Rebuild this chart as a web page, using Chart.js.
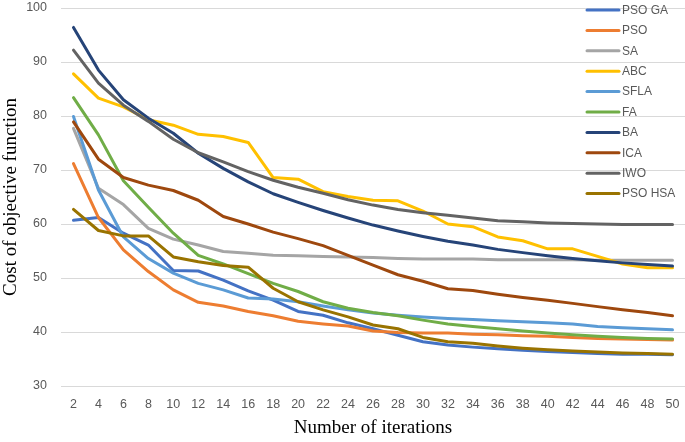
<!DOCTYPE html>
<html>
<head>
<meta charset="utf-8">
<script src="https://cdn.jsdelivr.net/npm/chart.js@4.4.1/dist/chart.umd.min.js"></script>
<style>
	html, body { margin: 0; padding: 0; background: #fff; }
	#wrap { width: 685px; height: 442px; position: relative; }
</style>
</head>
<body>
<div id="wrap"><canvas id="cost-chart"></canvas></div>
<script>
const iterations = [2, 4, 6, 8, 10, 12, 14, 16, 18, 20, 22, 24, 26, 28, 30, 32, 34, 36, 38, 40, 42, 44, 46, 48, 50]

const psoGa = [60.7, 61.2, 58.3, 56.1, 51.4, 51.3, 49.6, 47.6, 45.9, 43.8, 43.1, 41.7, 40.6, 39.4, 38.2, 37.6, 37.2, 36.9, 36.6, 36.4, 36.2, 36.0, 35.9, 35.9, 35.8]
const pso = [71.2, 61.2, 55.2, 51.2, 47.8, 45.5, 44.8, 43.8, 43.0, 42.0, 41.5, 41.1, 40.2, 39.9, 39.8, 39.8, 39.6, 39.5, 39.3, 39.2, 39.0, 38.8, 38.7, 38.6, 38.5]
const sa = [77.7, 66.6, 63.6, 59.2, 57.2, 56.1, 54.9, 54.6, 54.2, 54.1, 54.0, 53.9, 53.8, 53.6, 53.5, 53.5, 53.5, 53.4, 53.4, 53.4, 53.4, 53.3, 53.3, 53.3, 53.3]
const abc = [87.8, 83.3, 81.7, 79.3, 78.3, 76.6, 76.2, 75.1, 68.6, 68.3, 66.0, 65.1, 64.4, 64.3, 62.4, 60.0, 59.5, 57.6, 56.9, 55.4, 55.4, 54.0, 52.6, 51.9, 51.9]
const sfla = [79.9, 66.3, 57.6, 53.6, 50.9, 49.0, 47.8, 46.3, 46.1, 45.6, 44.8, 44.1, 43.5, 43.1, 42.8, 42.5, 42.3, 42.1, 41.9, 41.7, 41.5, 41.0, 40.8, 40.6, 40.4]
const fa = [83.4, 76.5, 68.0, 63.1, 58.3, 54.2, 52.6, 50.8, 49.0, 47.5, 45.6, 44.4, 43.6, 43.0, 42.2, 41.5, 41.0, 40.6, 40.2, 39.8, 39.5, 39.2, 39.0, 38.8, 38.7]
const ba = [96.4, 88.5, 83.0, 79.6, 76.8, 73.1, 70.3, 67.8, 65.6, 64.0, 62.5, 61.1, 59.8, 58.7, 57.7, 56.8, 56.1, 55.3, 54.7, 54.1, 53.6, 53.2, 52.8, 52.5, 52.2]
const ica = [78.9, 72.0, 68.6, 67.2, 66.2, 64.4, 61.4, 60.0, 58.5, 57.3, 56.0, 54.2, 52.4, 50.6, 49.4, 48.0, 47.7, 47.0, 46.4, 45.9, 45.3, 44.7, 44.1, 43.6, 43.0]
const iwo = [92.2, 86.1, 82.0, 79.0, 75.7, 73.2, 71.5, 69.7, 68.1, 66.8, 65.7, 64.5, 63.5, 62.7, 62.1, 61.6, 61.1, 60.6, 60.4, 60.2, 60.1, 60.0, 59.9, 59.9, 59.9]
const psoHsa = [62.7, 58.8, 57.8, 57.8, 53.9, 53.0, 52.3, 52.0, 48.1, 45.6, 44.1, 42.8, 41.3, 40.6, 39.0, 38.2, 37.9, 37.4, 37.0, 36.7, 36.5, 36.3, 36.1, 36.0, 35.9]

const seriesNames = ["PSO GA", "PSO", "SA", "ABC", "SFLA", "FA", "BA", "ICA", "IWO", "PSO HSA"]
const seriesValues = [psoGa, pso, sa, abc, sfla, fa, ba, ica, iwo, psoHsa]
const seriesColors = ["#4472C4", "#ED7D31", "#A5A5A5", "#FFC000", "#5B9BD5", "#70AD47", "#264478", "#9E480E", "#636363", "#997300"]
const yTicks = [30, 40, 50, 60, 70, 80, 90, 100]

const tickFont = {family: "'Liberation Sans', Arial, sans-serif", size: 12.5}
const titleFont = {family: "'Liberation Serif', 'Times New Roman', serif", size: 19}

//legend drawn over the plot, top right, like the original
const overlayLegend = {
	id: "overlayLegend",
	afterDatasetsDraw(chart){
		const ctx = chart.ctx
		ctx.save()
		ctx.font = "12px 'Liberation Sans', Arial, sans-serif"
		ctx.textBaseline = "middle"
		ctx.lineCap = "round"
		chart.data.datasets.forEach((ds, i) => {
			const y = 10 + i * 20.4
			ctx.strokeStyle = ds.borderColor
			ctx.lineWidth = 3
			ctx.beginPath()
			ctx.moveTo(587, y)
			ctx.lineTo(619, y)
			ctx.stroke()
			ctx.fillStyle = "#595959"
			ctx.fillText(ds.label, 622, y + 0.5)
		})
		ctx.restore()
	}
}

const datasets = seriesNames.map((name, i) => ({
	label: name,
	data: seriesValues[i],
	borderColor: seriesColors[i],
	backgroundColor: seriesColors[i],
	borderWidth: 3,
	borderCapStyle: "round",
	borderJoinStyle: "round",
	pointRadius: 0,
	tension: 0,
	order: seriesNames.length - i
}))

const costChart = new Chart("cost-chart", {
	type: "line",
	data: {
		labels: iterations,
		datasets: datasets
	},
	options: {
		responsive: true,
		maintainAspectRatio: false,
		animation: false,
		layout: {
			padding: {top: 8, right: 0, bottom: 0, left: 0}
		},
		plugins: {
			legend: {display: false},
			tooltip: {enabled: false}
		},
		scales: {
			x: {
				offset: true,
				grid: {display: false, drawTicks: false},
				border: {display: false},
				ticks: {color: "#595959", font: tickFont, maxRotation: 0, autoSkip: false, padding: 11},
				title: {display: true, text: "Number of iterations", color: "#000", font: titleFont, padding: {top: 0, bottom: 3}},
				afterFit(scale){
					scale.height = 56
					scale.paddingLeft = 0
					scale.paddingRight = 0
				}
			},
			y: {
				min: 30,
				max: 100,
				afterBuildTicks(scale){
					scale.ticks = yTicks.map(v => ({value: v}))
				},
				grid: {color: "#d9d9d9", lineWidth: 1, drawTicks: false},
				border: {display: false},
				ticks: {color: "#595959", font: tickFont, padding: 14},
				title: {display: true, text: "Cost of objective function", color: "#000", font: titleFont, padding: {top: 0, bottom: 0}},
				afterFit(scale){
					scale.width = 61
					scale.paddingTop = 0
					scale.paddingBottom = 0
				}
			}
		}
	},
	plugins: [overlayLegend]
})
</script>
</body>
</html>
